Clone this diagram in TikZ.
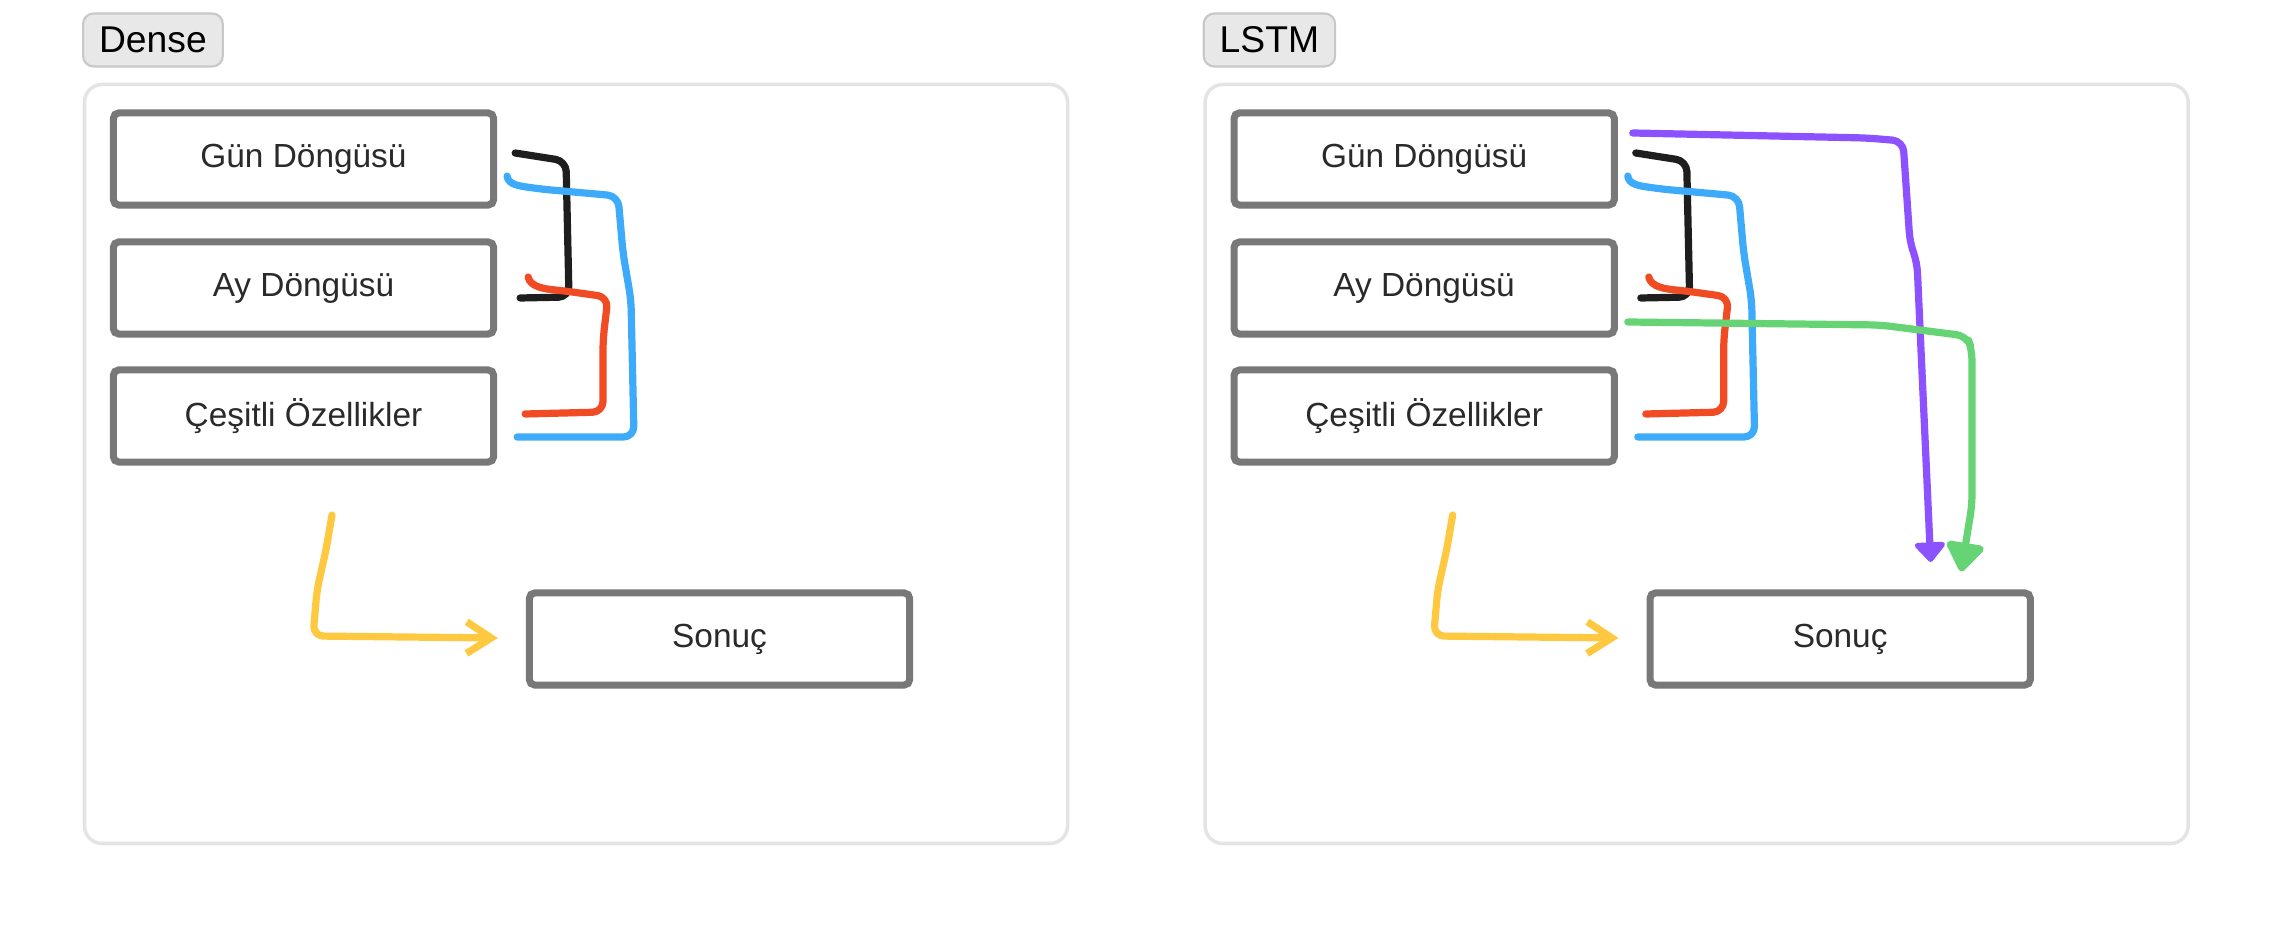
\documentclass[tikz,border=0pt]{standalone}
\usepackage{fontspec}
\setmainfont{Liberation Sans}
\usetikzlibrary{arrows.meta,calc}
\definecolor{boxgray}{RGB}{120,120,120}
\definecolor{boxtext}{RGB}{42,42,42}
\definecolor{panelline}{RGB}{228,228,228}
\definecolor{tabfill}{RGB}{232,232,232}
\definecolor{tabline}{RGB}{200,200,200}
\definecolor{inkblack}{RGB}{30,30,30}
\definecolor{inkblue}{RGB}{62,170,250}
\definecolor{inkred}{RGB}{240,75,35}
\definecolor{inkyellow}{RGB}{255,200,65}
\definecolor{inkpurple}{RGB}{140,82,255}
\definecolor{inkgreen}{RGB}{102,212,117}

\begin{document}
\begin{tikzpicture}[x=0.01cm, y=-0.01cm,
  feature/.style={draw=boxgray, line width=2pt, rounded corners=1.5pt, fill=white,
    minimum width=3.8cm, minimum height=0.92cm, text=boxtext,
    font=\fontsize{9.5}{11}\selectfont},
  tablabel/.style={draw=tabline, fill=tabfill, line width=0.6pt, rounded corners=3pt,
    minimum height=0.53cm, inner xsep=0.16cm, anchor=west,
    font=\fontsize{10.6}{12}\selectfont},
  panel/.style={draw=panelline, line width=1pt, rounded corners=5pt},
  ink/.style={line width=2.05pt, line cap=round, line join=round, rounded corners=3pt},
]
  \useasboundingbox (0,0) rectangle (2272,928);

  \foreach \sx/\tabtext/\p in {0/Dense/d, 11.2/LSTM/l}{
    \begin{scope}[xshift=\sx cm]
      \draw[panel] (84.5,84.5) rectangle (1067.5,843.5);
      \node[tablabel] (\p tab) at (82,40) {\tabtext};

      \node[feature] (\p gun) at (303.5,159) {Gün Döngüsü};
      \node[feature] (\p ay) at (303.5,288) {Ay Döngüsü};
      \node[feature] (\p cesit) at (303.5,416) {Çeşitli Özellikler};
      \node[feature] (\p sonuc) at (719.5,639) {Sonuç};

      % hand-drawn links between the inputs
      \draw[ink, inkblack] ([shift={(18,-6)}]\p gun.east) -- (566,161) -- (569,297)
        -- ([shift={(23,10)}]\p ay.east);
      \draw[ink, inkblue] ([shift={(10,17)}]\p gun.east) .. controls (508,185) and (520,186) .. (540,189)
        -- (618,196) -- (623,253) -- (631,300) -- (634,437) -- ([shift={(20,21)}]\p cesit.east);
      \draw[ink, inkred] ([shift={(31,-11)}]\p ay.east) .. controls (530,287) and (545,289) .. (565,291)
        -- (608,297) -- (603,340) -- (603,412) -- ([shift={(28,-2)}]\p cesit.east);
      \draw[ink, inkyellow, -{Straight Barb[length=7pt,width=9pt]}] ([shift={(28.5,49.5)}]\p cesit.south)
        -- (326,550) -- (317,590) -- (313,636) -- ([shift={(-28,-1)}]\p sonuc.west);
    \end{scope}
  }

  % LSTM only: direct paths to the result
  \draw[ink, inkpurple, -{Triangle[length=6pt,width=10pt,round]}] ([shift={(15,-26)}]lgun.east)
    -- (1867,138) -- (1903,141) -- (1910,243) -- (1917,262) -- ([shift={(90.5,-27.5)}]lsonuc.north);
  \draw[ink, inkgreen, -{Triangle[length=9pt,width=12pt,round]}] ([shift={(10,34)}]lay.east)
    -- (1880,325) -- (1967,336) -- (1972,350) -- (1972,505) -- ([shift={(121,-18)}]lsonuc.north);
\end{tikzpicture}
\end{document}
